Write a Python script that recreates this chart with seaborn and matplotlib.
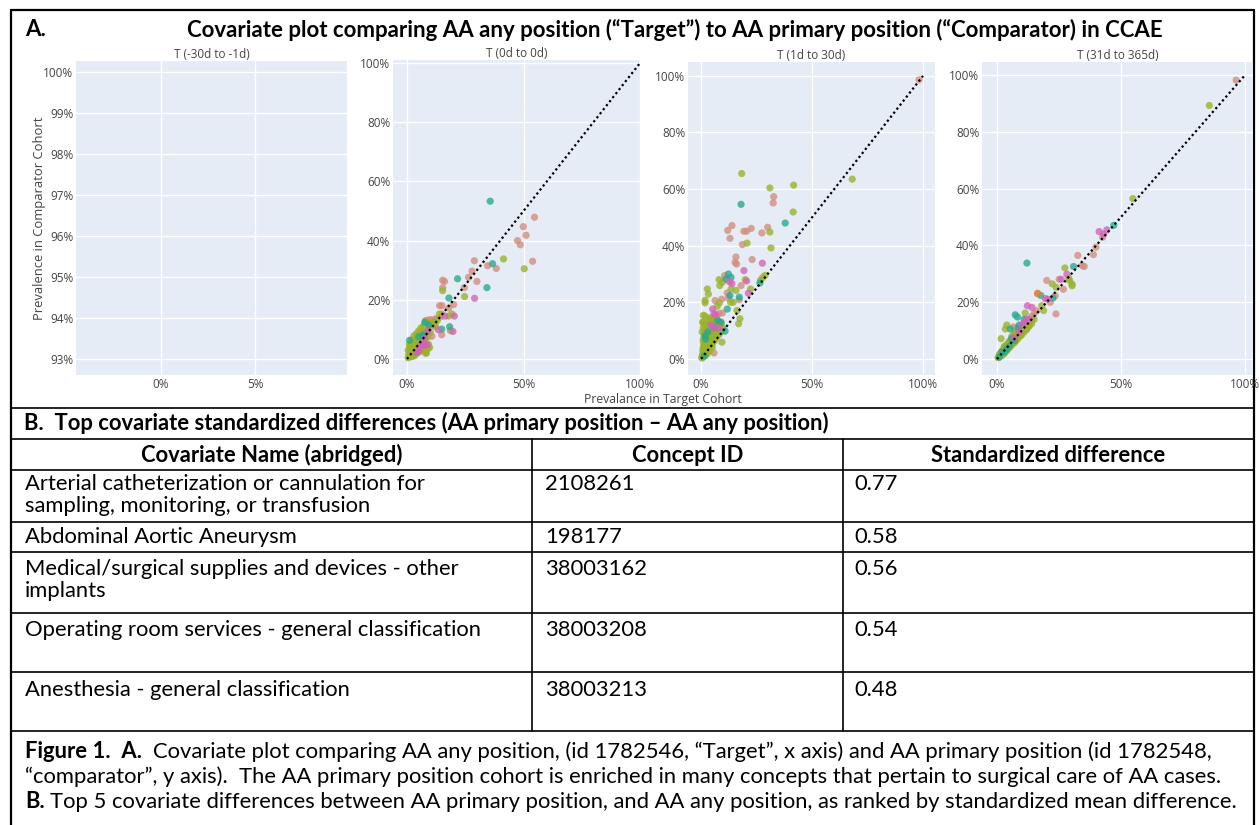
import matplotlib
matplotlib.use("Agg")
import matplotlib.pyplot as plt
from matplotlib.lines import Line2D
from matplotlib.ticker import PercentFormatter, FixedLocator
import pandas as pd
import seaborn as sns

#%% Data (prevalence in %)
domains = ["Condition", "Procedure", "Drug", "Measurement", "Observation"]
domain_colors = ["#d38c7c", "#9ab22a", "#26a98c", "#d263b7", "#e5862a"]
panel_titles = ["T (-30d to -1d)", "T (0d to 0d)", "T (1d to 30d)", "T (31d to 365d)"]

# T (0d to 0d)
t0_cond_x = [54.7, 49.9, 51.1, 47.4, 48.6, 53.9, 38.3, 34.6, 28.9, 27.9, 30.0, 26.4, 24.6, 15.3, 16.1, 15.3,
             20.0, 14.0, 15.0, 17.9, 15.0, 14.3, 14.9, 12.6, 8.9, 10.0, 10.7, 4, 5, 6, 7, 8, 9, 10, 3, 2.5,
             6.5, 8, 9.5, 11, 12]
t0_cond_y = [47.9, 44.7, 41.8, 40.0, 38.6, 33.0, 30.6, 31.5, 33.2, 29.7, 26.2, 27.6, 24.1, 26.6, 26.2, 24.1,
             18.4, 18.0, 18.0, 17.2, 15.2, 14.2, 8.2, 13.5, 13.1, 13.3, 7.7, 5, 6, 6.5, 7.5, 9, 10, 11, 3.5, 3,
             5, 13, 12.5, 13, 13.5]
t0_proc_x = [50.3, 41.4, 24.7, 15.3, 13.9, 17.9, 19.3, 18.6, 11.4, 12.1, 9.7, 8.3, 0.5, 1, 1.5, 2, 2.5, 3, 1, 2,
             3, 4, 1.5, 2.5, 3.5, 4.5, 5, 6, 5.5, 6.5, 4, 3, 2, 7, 8, 7.5, 5, 6, 7, 8, 9, 3.5, 4.5, 5.5,
             2, 3, 1.2, 6, 9, 10, 11, 12, 13,
             0.8, 1.8, 2.8, 3.8, 4.8, 1.5, 2.5, 3.2, 4.2, 5.2, 6.2, 7.2, 0.5, 1, 2, 3, 4, 5, 6, 7, 8, 9,
             2.2, 3.2, 4.2, 5.2, 6.2, 7.2, 8.2, 9.2]
t0_proc_y = [30.5, 33.8, 21.1, 23.1, 15.2, 14.5, 15.2, 9.6, 12.4, 11.6, 3.9, 2.0, 0.4, 0.8, 1.2, 1.5, 2, 2.5, 2, 3,
             4, 3, 3.5, 4.5, 5, 4, 5.5, 5, 7, 8, 6.5, 6, 5, 6, 7, 9, 3, 3.5, 4, 2, 3.5, 1.5, 2, 2.5,
             0.8, 1, 4, 9, 7.5, 9, 12, 11, 13,
             1.5, 2.2, 3.2, 4.2, 5, 2.8, 3.8, 5.2, 5.8, 6.5, 7.2, 8.2, 3, 5, 6.5, 7.8, 8.5, 9.5, 10.5, 11, 12.5, 12,
             1.2, 1.8, 2.6, 3.2, 4, 3, 4.5, 5]
t0_drug_x = [35.7, 36.7, 34.3, 21.7, 18.0, 18.3, 14.9, 9.3, 7.6, 1.1, 7.1, 5, 7]
t0_drug_y = [53.3, 32.2, 24.1, 27.1, 20.6, 10.9, 10.1, 11.5, 12.4, 6.3, 8.2, 7.5, 8]
t0_meas_x = [29.0, 16.3, 20.3, 19.7, 13.4, 7.1, 8.6, 5.0, 6, 7, 8, 5, 4, 9, 7.5]
t0_meas_y = [20.5, 14.5, 14.5, 9.3, 9.9, 4.8, 4.8, 2.6, 4.5, 5, 4.8, 2.8, 2.2, 9.5, 7]

# T (1d to 30d)
t1_cond_x = [98.2, 32.7, 32.5, 30.0, 27.4, 22.6, 20.5, 19.3, 13.9, 12.0, 13.0, 18.6, 15.7, 23.0, 15.3, 16.0,
             10.6, 18.0, 11.8, 12.3, 9.3, 6.3, 17.2, 9.6, 5.8, 3, 4, 5, 6, 7, 5.5, 6.5, 8, 4.5, 6, 7, 8]
t1_cond_y = [98.6, 57.3, 55.1, 46.5, 44.5, 46.1, 45.1, 45.1, 47.1, 45.4, 42.6, 40.4, 36.0, 35.1, 34.1, 33.5,
             29.4, 25.9, 23.3, 21.5, 21.1, 20.6, 20.9, 16.2, 2.1, 5, 6.5, 7, 9, 10, 12.5, 13, 13, 13.5, 14.5, 15, 16]
t1_proc_x = [68.1, 18.3, 31.0, 41.7, 41.5, 31.0, 20.7, 31.5, 28.8, 27.7, 26.8, 8.1, 8.4, 9.6, 15.7, 13.5, 19.9,
             22.3, 2.8, 3.3, 1.8, 1.8, 13.3, 14.5, 16.2, 8.2, 7.3, 1.0, 1.8, 4.0, 17.5, 16.9, 9.4, 1.0,
             0.5, 1, 1.5, 2, 2.5, 3, 1, 1.5, 2, 2.5, 3, 3.5, 4, 4.5, 5, 2, 2.5, 3, 3.5, 4, 5, 6, 1, 1.5,
             3, 4, 5.5, 6, 6.5, 7, 4, 5, 6, 3.5, 2, 3, 4, 5, 2.5, 3.5, 1.5, 1, 7, 8, 0.8,
             0.3, 0.6, 1.2, 1.8, 2.2, 2.8, 3.2, 3.8, 4.2, 4.8, 5.2, 5.8, 6.2, 0.8, 1.2, 1.8, 2.2, 2.8, 3.2, 3.8,
             4.2, 4.8, 5.2, 1, 1.5, 2, 2.5, 3, 3.5, 4, 0.5, 1, 1.5, 0.7, 6, 7, 7.5, 8.5, 9, 5, 6, 7, 8, 9, 10]
t1_proc_y = [63.5, 65.5, 60.4, 61.4, 51.9, 44.8, 40.9, 39.2, 29.5, 28.7, 27.8, 28.0, 25.9, 27.1, 24.2, 24.7, 28.0,
             24.7, 24.7, 22.9, 20.7, 19.8, 20.0, 20.0, 17.1, 19.8, 18.6, 15.4, 15.1, 14.1, 14.2, 12.4, 5.9, 12.9,
             0.3, 0.8, 1.5, 2, 3, 3.5, 2.5, 3.5, 4.5, 5.5, 6.5, 7.5, 8.5, 9.5, 10.5, 6, 7, 8, 9, 10, 11.5, 12, 4, 5,
             10.5, 11, 9, 8, 10, 11, 5, 6, 7, 4, 1.2, 2, 3, 4, 12, 12.5, 8, 6, 12.5, 12, 1.5,
             0.5, 1.2, 2, 2.8, 3.8, 4.8, 5.6, 6.4, 7.2, 8, 8.8, 10, 10.8, 3, 4.5, 5.5, 6.5, 7.5, 8.5, 9.5,
             10.5, 12, 13, 7, 9, 10, 11, 12, 13.5, 14.5, 9.5, 11, 12, 13, 13.5, 14, 10.5, 11.5, 12.5, 5.2, 6.3,
             7.5, 8.5, 9.5, 10.8]
t1_drug_x = [18.0, 37.9, 26.5, 12.3, 13.5, 11.2, 13.0, 17.2, 11.8, 10.8, 1.8, 2, 3, 6, 7.5, 9, 1.5]
t1_drug_y = [54.6, 48.0, 26.8, 30.0, 28.8, 28.2, 22.4, 21.8, 17.6, 9.8, 8.2, 7, 9.5, 11, 13.5, 13, 1]
t1_meas_x = [27.6, 19.3, 12.7, 13.9, 20.5, 21.3, 5.2, 5.8, 4.5, 5.5, 8, 6.5]
t1_meas_y = [33.8, 31.2, 27.3, 26.6, 27.5, 23.2, 17.6, 16.0, 12, 11, 11, 15.5]

# T (31d to 365d)
t2_cond_x = [96.4, 42.6, 39.9, 38.9, 32.6, 34.4, 35.2, 25.1, 20.1, 26.8, 23.5, 16.4, 21.5, 23.8, 6.7,
             5, 6, 7, 8, 9, 10, 11, 12, 13, 8, 9, 10, 11, 14, 15, 6, 16, 12]
t2_cond_y = [98.2, 42.9, 39.4, 36.8, 36.5, 32.9, 32.6, 28.1, 27.7, 24.6, 22.3, 23.0, 20.0, 15.9, 11.3,
             6, 7, 8, 9, 10, 11, 12, 12.5, 13, 7.5, 8.5, 10, 11, 15, 16, 5.5, 17, 10.5]
t2_proc_x = [85.6, 54.8, 27.4, 28.9, 29.3, 22.3, 30.3, 30.3, 23.9, 18.1, 18.8, 4.0, 3.4, 1.7, 11.4,
             0.5, 1, 1.5, 2, 2.5, 3, 3.5, 4, 4.5, 5, 5.5, 6, 6.5, 7, 7.5, 8, 8.5, 9, 10, 11, 12, 1.5, 2.5,
             3.5, 4.5, 5.5, 2, 3, 4, 5, 6, 7, 8, 9, 10, 13, 14, 15, 6, 7, 3,
             0.8, 1.3, 1.8, 2.3, 2.8, 3.3, 3.8, 4.3, 4.8, 5.3, 5.8, 6.3, 6.8, 7.3, 7.8, 8.3, 8.8, 9.5, 10.5, 11.5,
             1, 2, 3, 4, 5, 6, 7, 8, 2.5, 3.5, 4.5, 5.5, 6.5, 7.5, 8.5, 9.5, 11, 12, 13, 14]
t2_proc_y = [89.3, 56.5, 32.1, 28.5, 27.7, 26.5, 26.4, 25.8, 25.3, 18.8, 17.1, 12.0, 10.6, 7.2, 16.2,
             0.5, 1, 1.3, 2, 2.3, 3, 3.2, 4, 4.2, 5, 5.5, 6, 6.2, 7, 7.3, 8, 8.4, 9, 9.5, 10.5, 11.5, 2.2, 3.3,
             4.5, 5.5, 6.6, 1.2, 2, 3, 4, 5, 5.8, 6.8, 8, 8.5, 12, 13.5, 14, 8, 9, 4.5,
             0.6, 1.1, 1.5, 2.1, 2.6, 3.1, 3.6, 4.1, 4.6, 5.1, 5.6, 6.1, 6.6, 7.1, 7.6, 8.1, 8.6, 9.2, 10.1, 11,
             1.6, 2.8, 3.8, 5, 6.2, 7.3, 8.3, 9.4, 1.8, 2.7, 3.6, 4.6, 5.5, 6.3, 7.3, 8.2, 9.5, 10.5, 11.5, 12.5]
t2_drug_x = [47.1, 30.9, 12.1, 22.6, 17.7, 7.4, 8.3, 5.4, 3, 4, 2, 6, 7, 9, 8.5, 11, 1, 5]
t2_drug_y = [47.1, 32.6, 33.8, 21.5, 22.4, 15.6, 14.8, 10.6, 2.5, 3.5, 2.5, 7.2, 6.5, 12, 11, 14, 0.7, 4.5]
t2_meas_x = [41.2, 44.3, 43.0, 28.2, 25.9, 19.5, 20.4, 12.3, 14.1, 10, 11, 12, 9, 13, 7]
t2_meas_y = [44.9, 45.5, 44.0, 29.9, 28.1, 21.3, 21.1, 18.8, 18.2, 12, 13, 14, 9.5, 14, 7.5]
t2_obs_x = [16.4]
t2_obs_y = [23.2]

# Table B
cov_names = ["Arterial catheterization or cannulation for\nsampling, monitoring, or transfusion",
             "Abdominal Aortic Aneurysm",
             "Medical/surgical supplies and devices - other\nimplants",
             "Operating room services - general classification",
             "Anesthesia - general classification"]
concept_ids = ["2108261", "198177", "38003162", "38003208", "38003213"]
std_diffs = [0.77, 0.58, 0.56, 0.54, 0.48]


def make_df(parts):
    rows = []
    for dom, xs, ys in parts:
        for x, y in zip(xs, ys):
            rows.append({"target": x / 100, "comparator": y / 100, "domain": dom})
    return pd.DataFrame(rows)


panels = [
    None,
    make_df([("Condition", t0_cond_x, t0_cond_y), ("Procedure", t0_proc_x, t0_proc_y),
             ("Drug", t0_drug_x, t0_drug_y), ("Measurement", t0_meas_x, t0_meas_y)]),
    make_df([("Condition", t1_cond_x, t1_cond_y), ("Procedure", t1_proc_x, t1_proc_y),
             ("Drug", t1_drug_x, t1_drug_y), ("Measurement", t1_meas_x, t1_meas_y)]),
    make_df([("Condition", t2_cond_x, t2_cond_y), ("Procedure", t2_proc_x, t2_proc_y),
             ("Drug", t2_drug_x, t2_drug_y), ("Measurement", t2_meas_x, t2_meas_y),
             ("Observation", t2_obs_x, t2_obs_y)]),
]

#%% Layout (pixels)
W, H = 1259, 825
BODY = ["Lato", "DejaVu Sans"]
PLOTLY = ["Open Sans", "DejaVu Sans"]
GREY = "#444444"

# axes boxes: left, top, right, bottom in px, and limits
boxes = [(76, 61, 347, 375), (393, 60, 641, 375), (688, 62, 935, 375), (982, 62, 1253, 375)]
xlims = [(-0.0452, 0.0989), (-0.060, 1.004), (-0.059, 1.054), (-0.060, 1.032)]
ylims = [(0.9261, 1.0027), (-0.054, 1.010), (-0.057, 1.049), (-0.056, 1.046)]

sns.set_theme(style="white")
plt.rcParams["font.family"] = PLOTLY
fig = plt.figure(figsize=(W / 100, H / 100), dpi=100)
fig.patch.set_facecolor("white")
renderer = fig.canvas.get_renderer()
pal = dict(zip(domains, domain_colors))


def fx(x):
    return x / W


def fy(y):
    return 1 - y / H


for i, (l, t, r, b) in enumerate(boxes):
    ax = fig.add_axes([fx(l), fy(b), (r - l) / W, (b - t) / H])
    ax.set_facecolor("#E5ECF6")
    df = panels[i]
    if df is not None:
        sns.scatterplot(data=df, x="target", y="comparator", hue="domain", palette=pal,
                        s=27, alpha=0.78, linewidth=0, legend=False, ax=ax, zorder=3)
        ax.plot([0, 1], [0, 1], color="black", lw=1.6, ls=(0, (1, 1.3)), zorder=4)
        ax.xaxis.set_major_locator(FixedLocator([0, 0.5, 1]))
        ax.yaxis.set_major_locator(FixedLocator([0, 0.2, 0.4, 0.6, 0.8, 1.0]))
    else:
        ax.xaxis.set_major_locator(FixedLocator([0, 0.05]))
        ax.yaxis.set_major_locator(FixedLocator([0.93, 0.94, 0.95, 0.96, 0.97, 0.98, 0.99, 1.0]))
    ax.set_xlim(*xlims[i])
    ax.set_ylim(*ylims[i])
    ax.xaxis.set_major_formatter(PercentFormatter(1.0, decimals=0))
    ax.yaxis.set_major_formatter(PercentFormatter(1.0, decimals=0))
    ax.grid(True, color="white", lw=1.0, zorder=0)
    ax.set_axisbelow(True)
    for s in ax.spines.values():
        s.set_visible(False)
    ax.tick_params(length=0, labelsize=8.5, colors=GREY, pad=2)
    ax.set_xlabel("")
    ax.set_ylabel("")
    ax.set_title(panel_titles[i], fontsize=8.5, color=GREY, pad=2)

fig.text(fx(40), fy(218), "Prevalence in Comparator Cohort", rotation=90, ha="center", va="center",
         fontsize=9.4, color=GREY)
fig.text(fx(663), fy(400), "Prevalance in Target Cohort", ha="center", va="center",
         fontsize=8.8, color=GREY)


#%% Text helpers
def width_px(s, size, weight="normal"):
    t = fig.text(0, 0, s, fontsize=size, fontweight=weight, family=BODY)
    w = t.get_window_extent(renderer).width
    t.remove()
    return w


def fit_size(s, target, weight="normal"):
    return 10 * target / width_px(s, 10, weight)


def put(x, y, s, size, weight="normal", ha="left"):
    return fig.text(fx(x), fy(y), s, fontsize=size, fontweight=weight, family=BODY,
                    ha=ha, va="center", color="black")


def put_runs(x, y, runs, size):
    space = width_px("x x", size) - width_px("xx", size)
    for s, weight in runs:
        lead = len(s) - len(s.lstrip(" "))
        x += lead * space
        core = s.strip(" ")
        put(x, y, core, size, weight)
        x += width_px(core, size, weight)


title = "Covariate plot comparing AA any position (\u201cTarget\u201d) to AA primary position (\u201cComparator) in CCAE"
title_size = fit_size(title, 975, "bold")
put(25, 30, "A.", title_size, "bold")
put(675, 30, title, title_size, "bold", ha="center")

cap3 = "B. Top 5 covariate differences between AA primary position, and AA any position, as ranked by standardized mean difference."
body = fit_size(cap3, 1215)

#%% Borders and table grid
def hline(y, x0=11, x1=1254, lw=1.2, z=-1):
    fig.add_artist(Line2D([fx(x0), fx(x1)], [fy(y), fy(y)], transform=fig.transFigure,
                          color="black", lw=lw, zorder=z))


def vline(x, y0, y1, lw=1.2, z=-1):
    fig.add_artist(Line2D([fx(x), fx(x)], [fy(y0), fy(y1)], transform=fig.transFigure,
                          color="black", lw=lw, zorder=z))


hline(10, lw=1.6)
vline(11, 10, 825, lw=1.6)
vline(1254, 10, 825, lw=1.6)
row_lines = [408, 439, 470, 522, 552, 613, 672, 731]
for y in row_lines:
    hline(y)
col_lines = [532, 843]
for x in col_lines:
    vline(x, 439, 731)

put(24, 423, "B.  Top covariate standardized differences (AA primary position \u2013 AA any position)", body, "bold")
headers = ["Covariate Name (abridged)", "Concept ID", "Standardized difference"]
col_edges = [11, 532, 843, 1254]
for j, h in enumerate(headers):
    put((col_edges[j] + col_edges[j + 1]) / 2, 455, h, body, "bold", ha="center")

row_text_y = [484, 537, 569, 630, 690]
line_gap = 22
for k in range(len(cov_names)):
    for n, line in enumerate(cov_names[k].split("\n")):
        put(25, row_text_y[k] + n * line_gap, line, body)
    put(545, row_text_y[k], concept_ids[k], body)
    put(854, row_text_y[k], f"{std_diffs[k]:.2f}", body)

put_runs(25, 752, [("Figure 1.  A.", "bold"),
                   ("  Covariate plot comparing AA any position, (id 1782546, \u201cTarget\u201d, x axis) and AA primary position (id 1782548,", "normal")], body)
put_runs(25, 777, [("\u201ccomparator\u201d, y axis).  The AA primary position cohort is enriched in many concepts that pertain to surgical care of AA cases.", "normal")], body)
put_runs(25, 802, [("B.", "bold"),
                   (" Top 5 covariate differences between AA primary position, and AA any position, as ranked by standardized mean difference.", "normal")], body)

fig.savefig("out.png", dpi=100)
